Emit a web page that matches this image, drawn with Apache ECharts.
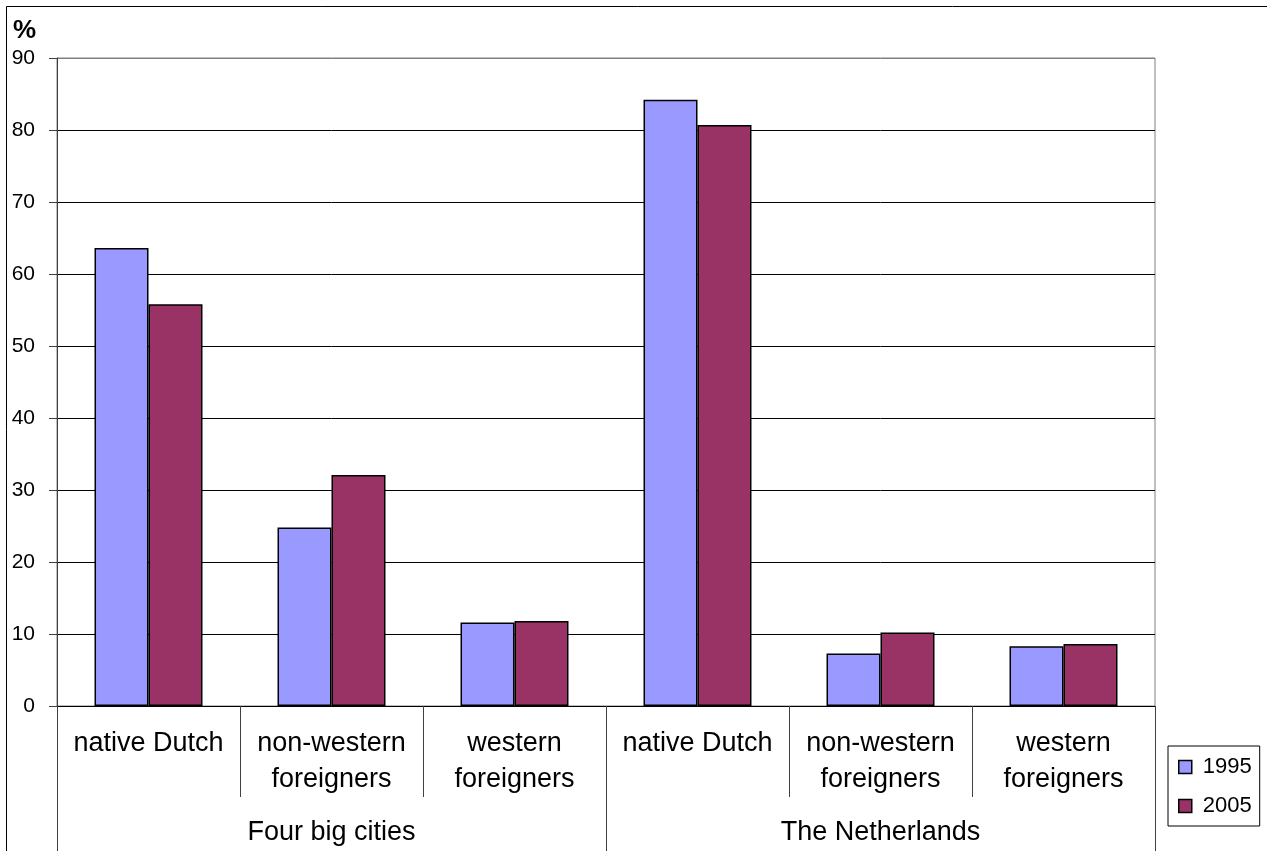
<!DOCTYPE html>
<html>
<head>
<meta charset="utf-8">
<script src="https://cdn.jsdelivr.net/npm/echarts@6/dist/echarts.min.js"></script>
<style>
  html, body { margin: 0; padding: 0; background: #fff; }
  #chart { width: 1267px; height: 851px; }
</style>
</head>
<body>
<div id="chart"></div>
<script>
// population share by origin, %
const categories = ['native Dutch', 'non-western\nforeigners', 'western\nforeigners',
                    'native Dutch', 'non-western\nforeigners', 'western\nforeigners'];
const groups = ['Four big cities', 'The Netherlands'];
const seriesNames = ['1995', '2005'];
const values1995 = [63.6, 24.8, 11.6, 84.2, 7.3, 8.3];
const values2005 = [55.8, 32.1, 11.8, 80.7, 10.2, 8.6];

const font = 'Liberation Sans, Arial, sans-serif';

// gridlines black, the top one is the grey plot border
const gridColors = ['#000', '#000', '#000', '#000', '#000', '#000', '#000', '#000', '#000', '#808080'];

const chart = echarts.init(document.getElementById('chart'));

chart.setOption({
    animation: false,
    textStyle: { fontFamily: font },
    grid: {
        left: 57, right: 112, top: 58, bottom: 145,
        outerBoundsMode: 'none',
        show: true,
        borderColor: '#808080',
        borderWidth: 1,
    },
    legend: {
        left: 1168, top: 746,
        orient: 'vertical',
        data: seriesNames,
        icon: 'rect',
        itemWidth: 13, itemHeight: 13,
        itemGap: 17,
        padding: [10, 8, 9, 10],
        borderColor: '#000', borderWidth: 1,
        textStyle: { fontSize: 22, color: '#000', fontFamily: font, padding: [0, 0, 0, 6] },
        itemStyle: { borderColor: '#000', borderWidth: 1.5 },
    },
    xAxis: [
        {
            type: 'category',
            data: categories,
            axisLine: { show: true, lineStyle: { color: '#000', width: 1 } },
            axisTick: { show: true, interval: 0, length: 91, lineStyle: { color: '#404040' } },
            axisLabel: {
                interval: 0, margin: 20, fontSize: 27, lineHeight: 36,
                color: '#000', fontFamily: font,
            },
        },
        {
            type: 'category',
            data: groups,
            position: 'bottom',
            axisLine: { show: false },
            axisTick: { show: true, interval: 0, length: 150, lineStyle: { color: '#404040' } },
            axisLabel: {
                interval: 0, margin: 115, fontSize: 27, lineHeight: 24,
                color: '#000', fontFamily: font,
            },
        },
    ],
    yAxis: {
        type: 'value',
        min: 0, max: 90, interval: 10,
        axisLine: { show: true, lineStyle: { color: '#404040' } },
        axisTick: { show: true, length: 8, lineStyle: { color: '#404040' } },
        axisLabel: {
            fontSize: 21, color: '#000', margin: 22, fontFamily: font,
            padding: [0, 0, 6, 0],
        },
        splitLine: { show: true, lineStyle: { color: gridColors, width: 1 } },
    },
    series: [
        {
            name: seriesNames[0], type: 'bar', xAxisIndex: 0,
            data: values1995,
            barGap: '0%', barCategoryGap: '41%',
            itemStyle: { color: '#9999FF', borderColor: '#000', borderWidth: 1.5 },
        },
        {
            name: seriesNames[1], type: 'bar', xAxisIndex: 0,
            data: values2005,
            barGap: '0%', barCategoryGap: '41%',
            itemStyle: { color: '#993366', borderColor: '#000', borderWidth: 1.5 },
        },
    ],
    graphic: [
        {
            type: 'rect', silent: true,
            shape: { x: 6.5, y: 6.5, width: 1300, height: 900 },
            style: { fill: 'none', stroke: '#000', lineWidth: 1 },
        },
        {
            type: 'text', left: 13, top: 18,
            style: { text: '%', fontSize: 26, fontWeight: 'bold', fill: '#000', fontFamily: font },
        },
    ],
});
</script>
</body>
</html>
